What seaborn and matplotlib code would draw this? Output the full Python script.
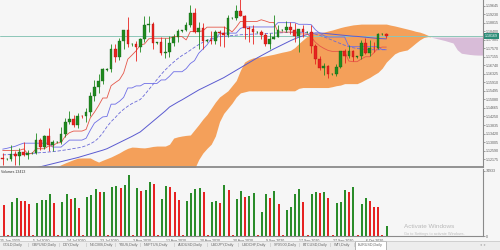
import numpy as np
import matplotlib
matplotlib.use("Agg")
import matplotlib.pyplot as plt
import matplotlib.transforms as mtransforms
from matplotlib.patches import Rectangle
import seaborn as sns

# ---------------- data (EURUSD daily) ----------------
opens = [1.1225,1.1218,1.1220,1.1243,1.1233,1.1251,1.1237,1.1246,1.1248,1.1309,
         1.1274,1.1331,1.1285,1.1300,1.1302,1.1342,1.1398,1.1411,1.1383,1.1428,
         1.1426,1.1445,1.1526,1.1568,1.1597,1.1652,1.1655,1.1755,1.1717,1.1791,
         1.1845,1.1777,1.1780,1.1761,1.1800,1.1870,1.1875,1.1785,1.1786,1.1735,
         1.1740,1.1785,1.1813,1.1843,1.1845,1.1870,1.1930,1.1835,1.1855,1.1795,
         1.1797,1.1793,1.1835,1.1830,1.1820,1.1903,1.1905,1.1937,1.1912,1.1855,
         1.1850,1.1837,1.1838,1.1820,1.1780,1.1801,1.1814,1.1845,1.1848,1.1860,
         1.1845,1.1815,1.1850,1.1837,1.1838,1.1770,1.1705,1.1660,1.1672,1.1630,
         1.1632,1.1665,1.1745,1.1720,1.1745,1.1715,1.1718,1.1782,1.1735,1.1760,
         1.1758,1.1826,1.1828]
highs = [1.1245,1.1222,1.1288,1.1255,1.1270,1.1303,1.1260,1.1250,1.1346,1.1322,
         1.1337,1.1371,1.1310,1.1305,1.1375,1.1418,1.1452,1.1432,1.1440,1.1432,
         1.1468,1.1546,1.1601,1.1630,1.1660,1.1660,1.1780,1.1780,1.1808,1.1845,
         1.1908,1.1785,1.1795,1.1806,1.1916,1.1916,1.1885,1.1790,1.1810,1.1805,
         1.1815,1.1829,1.1850,1.1848,1.1883,1.1966,1.1951,1.1883,1.1882,1.1800,
         1.1843,1.1845,1.1845,1.1865,1.1920,1.1910,1.1966,1.2011,1.1920,1.1868,
         1.1870,1.1842,1.1845,1.1830,1.1830,1.1917,1.1871,1.1850,1.1888,1.1887,
         1.1882,1.1850,1.1871,1.1842,1.1872,1.1778,1.1720,1.1685,1.1676,1.1635,
         1.1683,1.1745,1.1754,1.1771,1.1750,1.1720,1.1798,1.1809,1.1796,1.1789,
         1.1831,1.1832,1.1830]
lows = [1.1190,1.1214,1.1210,1.1190,1.1190,1.1232,1.1220,1.1240,1.1240,1.1260,
        1.1266,1.1255,1.1256,1.1295,1.1290,1.1325,1.1390,1.1372,1.1370,1.1420,
        1.1400,1.1428,1.1500,1.1540,1.1582,1.1645,1.1640,1.1690,1.1700,1.1753,
        1.1762,1.1770,1.1696,1.1740,1.1790,1.1836,1.1754,1.1780,1.1725,1.1711,
        1.1717,1.1770,1.1788,1.1838,1.1840,1.1860,1.1833,1.1755,1.1753,1.1790,
        1.1780,1.1780,1.1768,1.1764,1.1810,1.1898,1.1893,1.1915,1.1800,1.1789,
        1.1780,1.1830,1.1800,1.1770,1.1754,1.1800,1.1810,1.1840,1.1838,1.1825,
        1.1790,1.1737,1.1810,1.1832,1.1733,1.1683,1.1650,1.1627,1.1612,1.1625,
        1.1622,1.1660,1.1684,1.1710,1.1695,1.1710,1.1705,1.1730,1.1718,1.1740,
        1.1755,1.1820,1.1805]
closes = [1.1218,1.1220,1.1243,1.1233,1.1251,1.1237,1.1246,1.1248,1.1309,1.1274,
          1.1331,1.1285,1.1299,1.1302,1.1342,1.1398,1.1411,1.1383,1.1428,1.1426,
          1.1445,1.1526,1.1568,1.1597,1.1655,1.1655,1.1755,1.1717,1.1791,1.1845,
          1.1777,1.1780,1.1761,1.1800,1.1870,1.1875,1.1785,1.1786,1.1735,1.1740,
          1.1785,1.1813,1.1843,1.1845,1.1870,1.1930,1.1835,1.1855,1.1795,1.1797,
          1.1793,1.1835,1.1830,1.1820,1.1903,1.1905,1.1937,1.1912,1.1855,1.1850,
          1.1837,1.1838,1.1820,1.1780,1.1801,1.1814,1.1845,1.1848,1.1860,1.1845,
          1.1815,1.1850,1.1837,1.1838,1.1770,1.1705,1.1660,1.1672,1.1630,1.1632,
          1.1665,1.1745,1.1720,1.1745,1.1715,1.1718,1.1782,1.1735,1.1760,1.1758,
          1.1826,1.1828,1.1817]
volumes = [35600,900,39400,43200,40500,40400,36700,900,37500,41300,
           41500,47800,37500,900,39400,47800,42500,44000,32500,900,
           45100,47000,53900,50100,50500,900,56600,57400,54700,58500,
           70000,900,55500,52000,52400,62300,59700,900,42500,57800,
           56600,50100,41300,900,40500,49000,53900,55500,50100,900,
           39400,40200,37500,58500,52800,900,42100,51600,45100,46000,
           49000,900,27900,48200,43200,52000,36700,900,29800,33700,
           47800,53500,39400,900,48200,50100,49700,50200,44000,900,
           38300,39400,52800,50900,56600,900,36300,44000,40200,33700,
           32900,900,11500]
vol_dir = ["r","r","g","g","r","r","r","r","g","g",
           "g","g","r","r","g","g","r","g","r","r",
           "g","g","g","r","g","r","g","g","r","g",
           "g","r","g","r","g","g","r","r","g","g",
           "r","r","r","r","g","g","g","g","r","r",
           "g","g","r","g","r","r","g","g","r","g",
           "g","r","g","g","r","g","r","r","g","g",
           "g","g","r","r","g","g","r","g","r","r",
           "g","g","g","r","g","r","g","g","r","r",
           "r","r","g"]
tenkan = [1.1259,1.1259,1.1259,1.1260,1.1260,1.1267,1.1244,1.1244,1.1268,1.1268,
          1.1268,1.1281,1.1281,1.1296,1.1298,1.1329,1.1346,1.1354,1.1354,1.1354,
          1.1362,1.1418,1.1446,1.1478,1.1515,1.1515,1.1575,1.1590,1.1604,1.1637,
          1.1704,1.1724,1.1745,1.1774,1.1778,1.1803,1.1806,1.1806,1.1806,1.1806,
          1.1806,1.1814,1.1814,1.1814,1.1798,1.1839,1.1839,1.1839,1.1842,1.1860,
          1.1860,1.1860,1.1860,1.1860,1.1852,1.1837,1.1860,1.1888,1.1888,1.1888,
          1.1888,1.1888,1.1896,1.1890,1.1883,1.1883,1.1837,1.1836,1.1836,1.1836,
          1.1836,1.1827,1.1827,1.1827,1.1811,1.1786,1.1769,1.1757,1.1747,1.1742,
          1.1742,1.1742,1.1742,1.1695,1.1692,1.1692,1.1705,1.1716,1.1716,1.1735,
          1.1758,1.1763,1.1763]
kijun = [1.1266,1.1270,1.1275,1.1280,1.1288,1.1295,1.1295,1.1295,1.1295,1.1295,
         1.1295,1.1295,1.1276,1.1276,1.1276,1.1293,1.1310,1.1310,1.1310,1.1310,
         1.1319,1.1358,1.1393,1.1408,1.1423,1.1425,1.1485,1.1485,1.1499,1.1518,
         1.1564,1.1564,1.1574,1.1574,1.1586,1.1586,1.1586,1.1586,1.1603,1.1603,
         1.1621,1.1643,1.1643,1.1643,1.1658,1.1683,1.1697,1.1733,1.1753,1.1774,
         1.1803,1.1803,1.1828,1.1831,1.1831,1.1831,1.1831,1.1854,1.1861,1.1861,
         1.1861,1.1861,1.1861,1.1861,1.1861,1.1861,1.1882,1.1882,1.1882,1.1882,
         1.1882,1.1874,1.1874,1.1874,1.1872,1.1847,1.1831,1.1819,1.1812,1.1812,
         1.1812,1.1812,1.1812,1.1766,1.1765,1.1765,1.1765,1.1765,1.1765,1.1765,
         1.1765,1.1750,1.1750]
ma_fast = [1.1238,1.1239,1.1240,1.1241,1.1242,1.1243,1.1244,1.1245,1.1247,1.1249,
           1.1250,1.1252,1.1254,1.1256,1.1259,1.1262,1.1265,1.1269,1.1272,1.1276,
           1.1283,1.1292,1.1303,1.1320,1.1345,1.1375,1.1400,1.1420,1.1442,1.1460,
           1.1475,1.1488,1.1498,1.1508,1.1530,1.1555,1.1580,1.1605,1.1630,1.1652,
           1.1672,1.1690,1.1707,1.1722,1.1734,1.1748,1.1762,1.1775,1.1786,1.1796,
           1.1805,1.1810,1.1813,1.1815,1.1817,1.1819,1.1821,1.1823,1.1824,1.1825,
           1.1826,1.1827,1.1828,1.1829,1.1830,1.1831,1.1832,1.1833,1.1834,1.1835,
           1.1836,1.1836,1.1835,1.1833,1.1830,1.1826,1.1820,1.1813,1.1805,1.1797,
           1.1788,1.1780,1.1772,1.1765,1.1760,1.1756,1.1754,1.1752,1.1751,1.1750,
           1.1750,1.1751,1.1752]
ma_slow = [1.1135,1.1140,1.1145,1.1150,1.1155,1.1160,1.1165,1.1170,1.1175,1.1180,
           1.1185,1.1190,1.1195,1.1200,1.1205,1.1210,1.1215,1.1220,1.1225,1.1231,
           1.1237,1.1243,1.1249,1.1255,1.1261,1.1268,1.1278,1.1288,1.1298,1.1308,
           1.1318,1.1328,1.1339,1.1350,1.1367,1.1384,1.1401,1.1418,1.1435,1.1452,
           1.1471,1.1483,1.1495,1.1506,1.1518,1.1530,1.1542,1.1554,1.1564,1.1574,
           1.1584,1.1594,1.1604,1.1614,1.1626,1.1638,1.1650,1.1662,1.1674,1.1686,
           1.1698,1.1710,1.1721,1.1732,1.1743,1.1754,1.1764,1.1774,1.1784,1.1794,
           1.1803,1.1811,1.1818,1.1824,1.1829,1.1832,1.1832,1.1830,1.1828,1.1826,
           1.1824,1.1822,1.1820,1.1818,1.1816,1.1815,1.1813,1.1811,1.1809,1.1807,
           1.1805,1.1804,1.1803]
span_a = [1.1000,1.1010,1.1025,1.1040,1.1055,1.1070,1.1085,1.1100,1.1115,1.1130,
          1.1145,1.1158,1.1170,1.1180,1.1190,1.1199,1.1207,1.1215,1.1222,1.1223,
          1.1223,1.1223,1.1212,1.1203,1.1212,1.1220,1.1228,1.1238,1.1248,1.1260,
          1.1270,1.1276,1.1275,1.1273,1.1272,1.1275,1.1279,1.1281,1.1281,1.1281,
          1.1290,1.1320,1.1326,1.1330,1.1333,1.1335,1.1360,1.1385,1.1412,1.1435,
          1.1465,1.1495,1.1520,1.1535,1.1550,1.1575,1.1600,1.1650,1.1690,1.1702,
          1.1710,1.1713,1.1716,1.1720,1.1724,1.1728,1.1733,1.1738,1.1742,1.1747,
          1.1760,1.1780,1.1798,1.1815,1.1830,1.1832,1.1832,1.1836,1.1841,1.1846,
          1.1852,1.1858,1.1863,1.1867,1.1871,1.1873,1.1875,1.1875,1.1875,1.1875,
          1.1875,1.1875,1.1875,1.1870,1.1866,1.1861,1.1856,1.1851,1.1846,1.1840,
          1.1836,1.1829,1.1820,1.1810,1.1805,1.1800,1.1795,1.1789,1.1783,1.1750,
          1.1733,1.1730,1.1727,1.1725,1.1724,1.1724,1.1724,1.1724,1.1724]
span_b = [1.0960,1.0960,1.0960,1.0960,1.0960,1.0960,1.0960,1.0960,1.0960,1.0960,
          1.0960,1.0960,1.0960,1.0960,1.0960,1.0960,1.0960,1.0960,1.0960,1.0960,
          1.0960,1.0960,1.0960,1.0960,1.0960,1.0960,1.0960,1.0960,1.0960,1.0960,
          1.0960,1.0960,1.0960,1.0960,1.0960,1.0960,1.1000,1.1000,1.1000,1.1000,
          1.1000,1.1000,1.1000,1.1000,1.1050,1.1120,1.1170,1.1215,1.1247,1.1270,
          1.1290,1.1330,1.1400,1.1440,1.1465,1.1490,1.1520,1.1540,1.1545,1.1550,
          1.1550,1.1550,1.1550,1.1550,1.1550,1.1550,1.1550,1.1550,1.1550,1.1550,
          1.1550,1.1562,1.1566,1.1566,1.1566,1.1566,1.1566,1.1566,1.1566,1.1570,
          1.1575,1.1578,1.1585,1.1585,1.1585,1.1585,1.1594,1.1605,1.1615,1.1628,
          1.1640,1.1660,1.1690,1.1710,1.1730,1.1740,1.1745,1.1749,1.1765,1.1782,
          1.1798,1.1810,1.1814,1.1812,1.1812,1.1812,1.1812,1.1812,1.1812,1.1812,
          1.1812,1.1812,1.1812,1.1812,1.1812,1.1812,1.1812,1.1812,1.1812]
current_price = 1.18169
price_ticks = [1.19645,1.19230,1.18815,1.18400,1.17985,1.17570,1.17155,1.16740,
               1.16325,1.15910,1.15495,1.15080,1.14665,1.14250,1.13835,1.13420,
               1.13005,1.12590,1.12175]
vol_ticks = [0, 74933]
date_slots = [-1, 7, 15, 23, 31, 39, 47, 55, 63, 71, 79, 87]
date_labels = ["25 Jun 2020", "5 Jul 2020", "14 Jul 2020", "23 Jul 2020", "3 Aug 2020",
               "12 Aug 2020", "20 Aug 2020", "30 Aug 2020", "9 Sep 2020", "17 Sep 2020",
               "27 Sep 2020", "6 Oct 2020"]
volume_title = "Volumes 13413"
tabs = ["GOLD,Daily", "GBPUSD,Daily", "DXY,Daily", "NGOMS,Daily", "YBUS,Daily",
        "NSPTUS,Daily", "AUDUSD,Daily", "USDJPY,Daily", "USDCHF,Daily", "SPX500,Daily",
        "BTCUSD,Daily", "WTI,Daily", "EURUSD,Daily"]
tab_x = [3, 32, 63, 90, 119, 144, 178, 211, 242, 274, 303, 334, 358]

# ---------------- style ----------------
sns.set_theme(style="white")
plt.rcParams['font.family'] = ['Liberation Sans', 'DejaVu Sans']
BG = "#f6f6f6"
BULL = "#1f8a1f"
BEAR = "#e8231f"
VG = "#2a8c2a"
VR = "#e62222"
TXT = "#5a5a5a"

fig = plt.figure(figsize=(5, 2.5), dpi=100, facecolor=BG)
W, H = 500.0, 250.0
ax = fig.add_axes([0, 1 - 167 / H, 483 / W, 167 / H], facecolor=BG)
axv = fig.add_axes([0, 1 - 236 / H, 483 / W, (236 - 169) / H], facecolor=BG)

x = np.arange(len(closes))
xs = np.arange(len(span_a))
o = np.array(opens); h = np.array(highs); l = np.array(lows); c = np.array(closes)
a = np.array(span_a); b = np.array(span_b)

# cloud
ax.fill_between(xs, a, b, where=a >= b, interpolate=True, color="#f4a05a", lw=0, zorder=1)
ax.fill_between(xs, a, b, where=a < b, interpolate=True, color="#d8bcd8", lw=0, zorder=1)

# indicator lines
sns.lineplot(x=x, y=ma_slow, ax=ax, color="#5a5ad0", lw=0.7, zorder=2)
sns.lineplot(x=x, y=ma_fast, ax=ax, color="#6a6ad8", lw=0.6, zorder=2, linestyle=(0, (4, 2)))
sns.lineplot(x=x, y=kijun, ax=ax, color="#6e6ee6", lw=0.6, zorder=2)
sns.lineplot(x=x, y=tenkan, ax=ax, color="#e5574a", lw=0.6, zorder=2)

# current price line
ax.axhline(current_price, color="#8cc6b8", lw=0.7, zorder=1.5)

# candles
up = c >= o
cols = np.where(up, BULL, BEAR)
ax.vlines(x, l, h, colors=cols, lw=0.6, zorder=3)
body = np.maximum(np.abs(c - o), 0.00012)
ax.bar(x, body, bottom=np.minimum(o, c), width=0.62, color=cols,
       edgecolor=np.where(up, "#145c14", "#b01010"), linewidth=0.25, zorder=4)

ax.set_xlim(-0.647, 115.18)
ax.set_ylim(1.1179, 1.19923)
ax.yaxis.tick_right()
ax.set_yticks(price_ticks)
ax.set_yticklabels([f"{v:.5f}" for v in price_ticks])
ax.tick_params(axis="y", labelsize=2.6, length=1.2, pad=0.8, colors=TXT, width=0.4)
ax.set_xticks([])
for s in ["top", "left"]:
    ax.spines[s].set_visible(False)
ax.spines["right"].set_color("#8a8a8a"); ax.spines["right"].set_linewidth(0.8)
ax.spines["bottom"].set_color("#8a8a8a"); ax.spines["bottom"].set_linewidth(1.3)

# current price tag
trans = mtransforms.blended_transform_factory(ax.transAxes, ax.transData)
ax.text(1.0045, current_price, f"{current_price:.5f}", transform=trans, fontsize=2.6,
        color="white", va="center", ha="left", zorder=10, clip_on=False,
        bbox=dict(boxstyle="square,pad=0.3", fc="#2c8c78", ec="none"))

# volumes
vcols = [VG if d == "g" else VR for d in vol_dir]
axv.bar(x, volumes, width=0.48, color=vcols, linewidth=0)
axv.set_xlim(-0.647, 115.18)
axv.set_ylim(0, 76900)
axv.yaxis.tick_right()
axv.set_yticks(vol_ticks)
axv.set_yticklabels([str(v) for v in vol_ticks])
axv.tick_params(axis="y", labelsize=2.6, length=1.2, pad=0.8, colors=TXT, width=0.4)
axv.set_xticks(date_slots)
axv.set_xticklabels(date_labels, ha="left")
axv.tick_params(axis="x", labelsize=2.5, length=1.5, pad=0.5, colors=TXT, width=0.4)
for s in ["top", "left"]:
    axv.spines[s].set_visible(False)
axv.spines["right"].set_color("#8a8a8a"); axv.spines["right"].set_linewidth(0.8)
axv.spines["bottom"].set_color("#8a8a8a"); axv.spines["bottom"].set_linewidth(0.8)
axv.text(0.002, 0.985, volume_title, transform=axv.transAxes, fontsize=2.5,
         color="#333333", va="top", ha="left")

# tab bar
fig.patches.append(Rectangle((0, 0), 1, 9.5 / H, transform=fig.transFigure,
                             fc="#ededed", ec="none", zorder=0))
fig.lines.append(plt.Line2D([0, 1], [9.5 / H, 9.5 / H], transform=fig.transFigure,
                            color="#c4c4c4", lw=0.5))
for i, (t, tx) in enumerate(zip(tabs, tab_x)):
    if t == "EURUSD,Daily":
        fig.patches.append(Rectangle(((tx - 3) / W, 0.5 / H), 31 / W, 9 / H,
                                     transform=fig.transFigure, fc="white",
                                     ec="#9a9a9a", lw=0.5, zorder=1))
    fig.text(tx / W, 4.8 / H, t, fontsize=2.7, color="#6a6a6a", va="center", ha="left", zorder=2)
    if i < len(tabs) - 1:
        fig.text((tab_x[i + 1] - 4) / W, 4.8 / H, "|", fontsize=3.2, color="#b0b0b0",
                 va="center", ha="center")
fig.text(480 / W, 4.8 / H, "\u25c2  \u25b8", fontsize=2.6, color="#aaaaaa", va="center", ha="left")

# Windows watermark
fig.text(404 / W, 1 - 226.5 / H, "Activate Windows", fontsize=4.6, color="#b8b8b8",
         va="center", ha="left")
fig.text(404 / W, 1 - 233.5 / H, "Go to Settings to activate Windows.", fontsize=2.8,
         color="#bdbdbd", va="center", ha="left")

fig.savefig("out.png", dpi=100, facecolor=BG)
